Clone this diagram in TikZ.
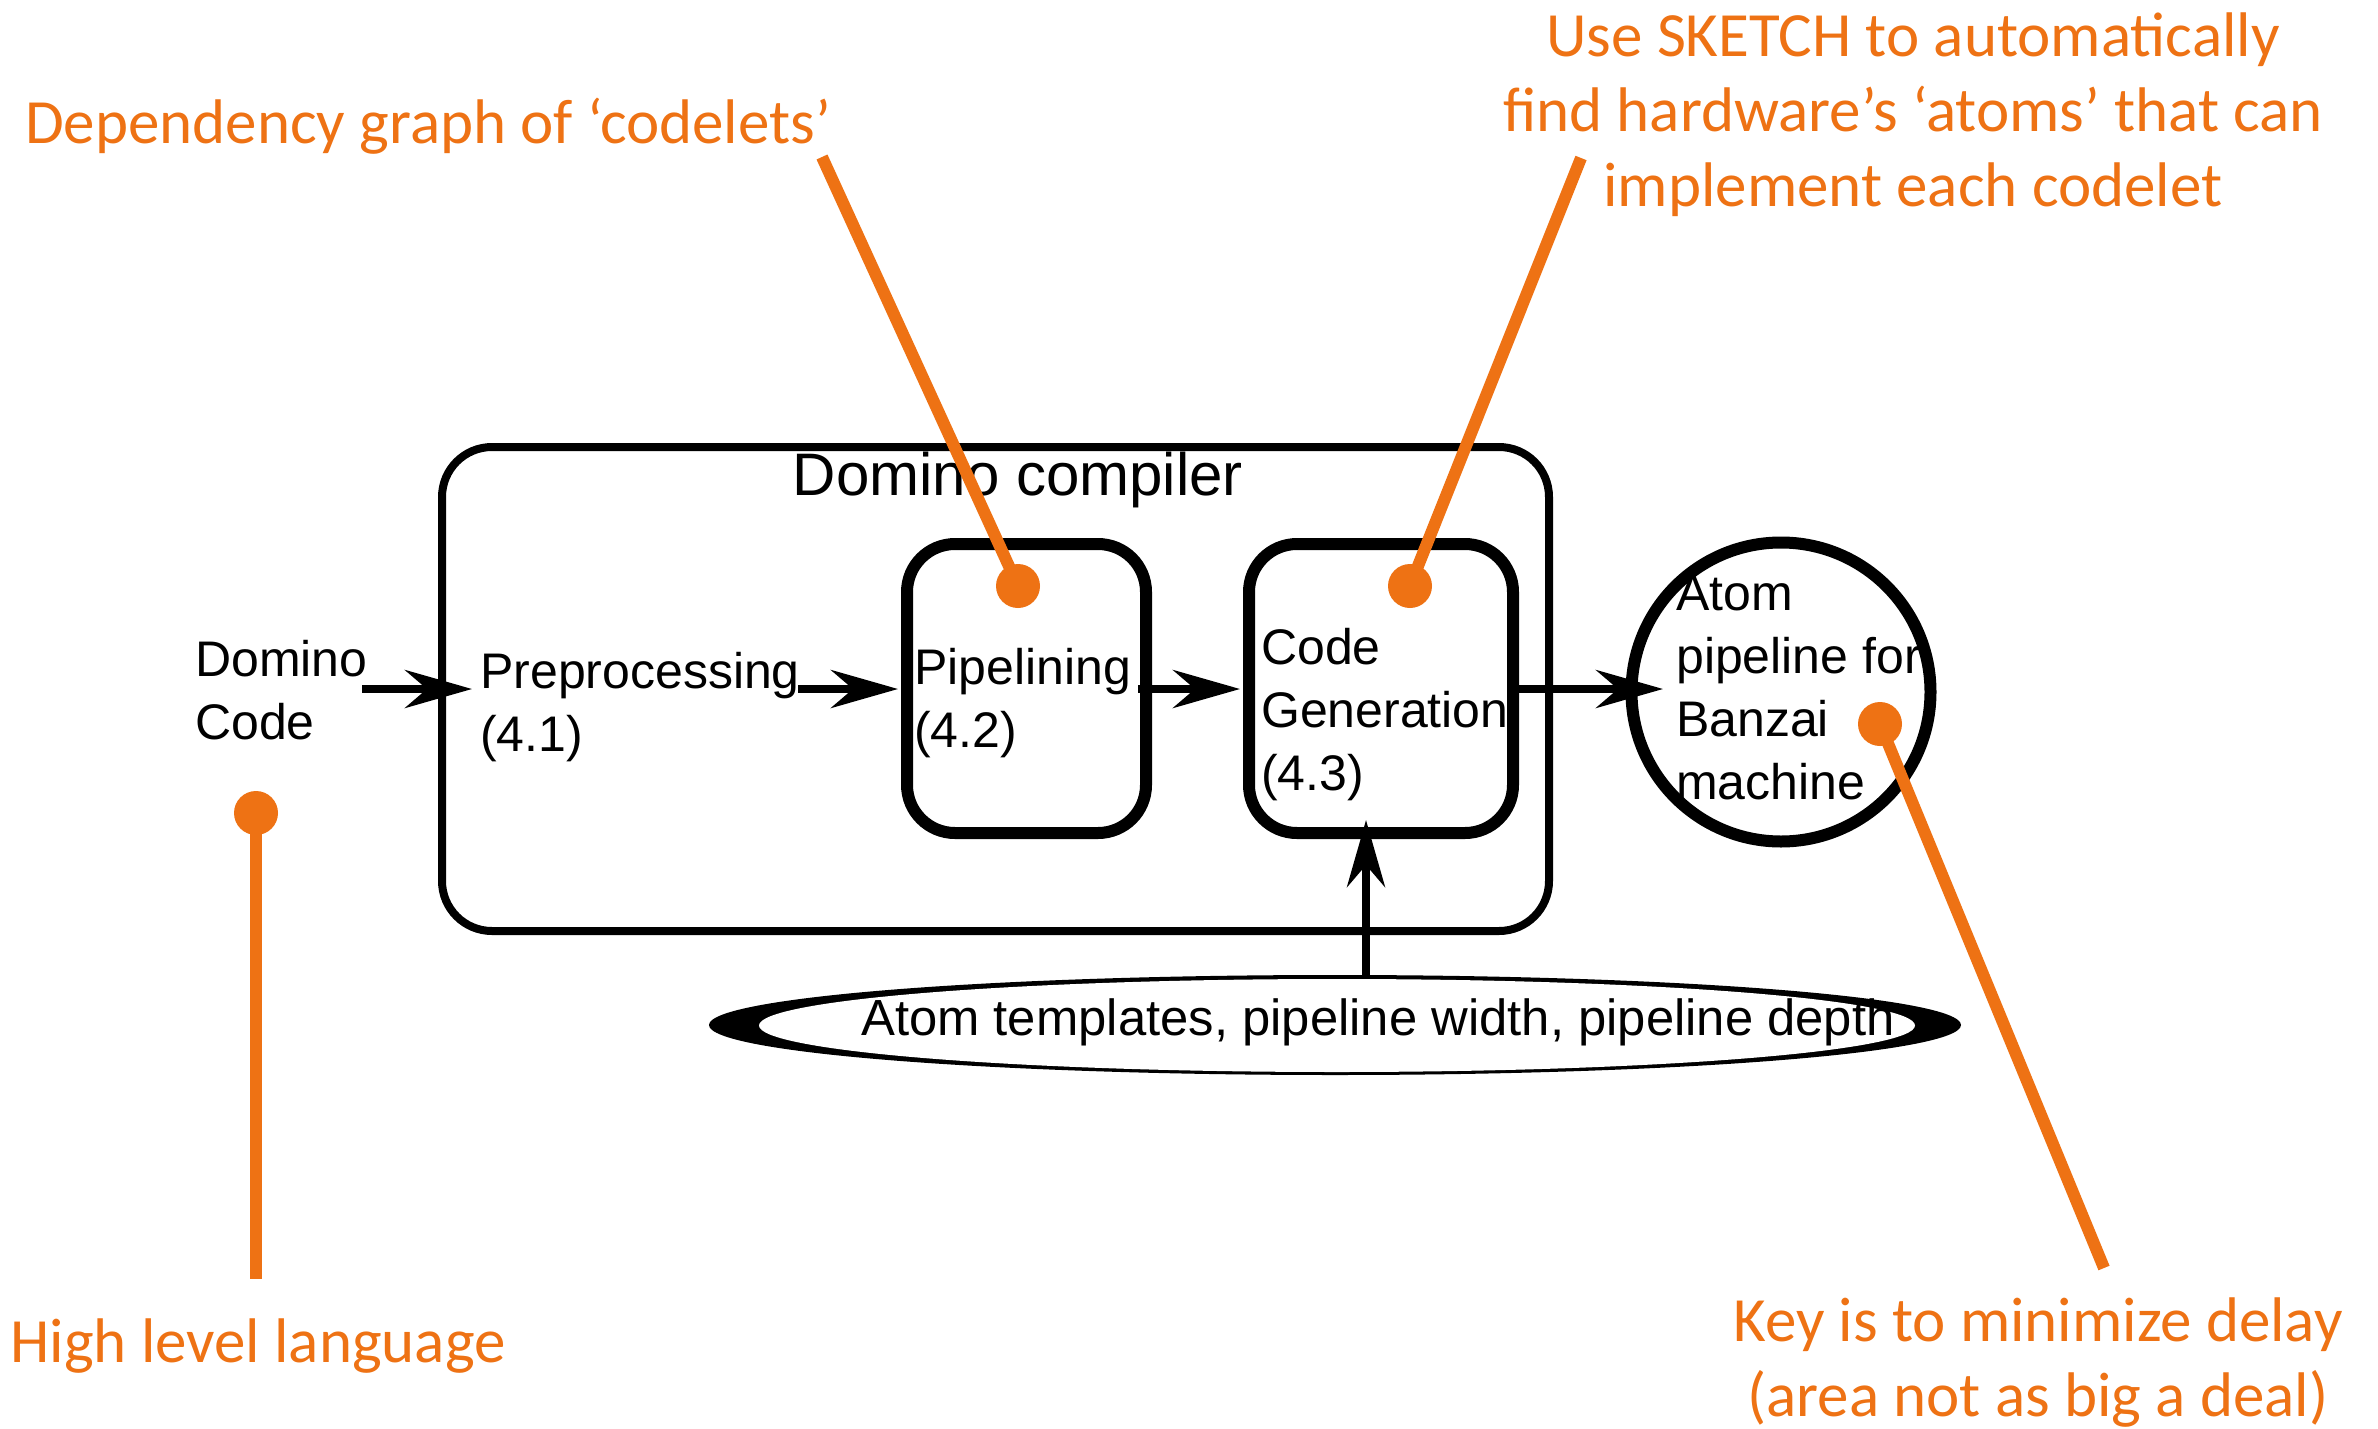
\documentclass[tikz,border=0pt]{standalone}
\usepackage{fontspec}
\setmainfont{Liberation Sans}
\newfontfamily\gillfont{Carlito}
\usetikzlibrary{arrows.meta,shapes.geometric}
\definecolor{orng}{RGB}{238,114,20}
\begin{document}
\begin{tikzpicture}[x=1pt,y=-1pt,
  arr/.style={line width=8pt,-{Stealth[length=67pt,width=38pt,inset=22pt]}},
  stagebox/.style={draw,line width=12pt,rounded corners=48pt,inner sep=0pt},
  blk/.style={font=\fontsize{50}{63}\selectfont,inner sep=0pt,align=left,anchor=base west},
  olab/.style={font=\gillfont\fontsize{63}{75}\selectfont,text=orng,inner sep=0pt,align=center,anchor=base},
  oline/.style={draw=orng,line width=12pt},
  odot/.style={circle,fill=orng,minimum size=44pt,inner sep=0pt}]
\useasboundingbox[fill=white] (0,0) rectangle (2378,1429);

% boxes
\node[draw,line width=8pt,rounded corners=50pt,inner sep=0pt,minimum width=1107pt,minimum height=484pt] (comp) at (995.5,689) {};
\node[stagebox,minimum width=239pt,minimum height=289pt] (pipe) at (1026.5,688.5) {};
\node[stagebox,minimum width=264pt,minimum height=289pt] (cgen) at (1381,688.5) {};
\node[circle,draw,line width=12pt,minimum size=299pt,inner sep=0pt] (atom) at (1781,692) {};
\node[ellipse,fill=black,minimum width=1252pt,minimum height=100pt,inner sep=0pt] (ell) at (1335,1025) {};
\node[ellipse,fill=white,minimum width=1156pt,minimum height=93pt,inner sep=0pt] (ellin) at (1337,1025.5) {};

% texts (anchor = baseline of last line)
\node[font=\fontsize{60}{72}\selectfont,inner sep=0pt,anchor=base] (title) at (1018,495) {Domino compiler};
\node[blk] (dc) at (195,739) {Domino\\Code};
\node[blk] (prep) at (480,751) {Preprocessing\\(4.1)};
\node[blk] (pipet) at (914,747) {Pipelining\\(4.2)};
\node[blk] (cgent) at (1261,790) {Code\\Generation\\(4.3)};
\node[blk] (atomt) at (1676,799) {Atom\\pipeline for\\Banzai\\machine};
\node[blk,font=\fontsize{50.8}{63}\selectfont] (ellt) at (861,1035) {Atom templates, pipeline width, pipeline depth};

% black arrows
\coordinate (a0) at (362,689);
\coordinate (a1) at (472,689);
\coordinate (b0) at (798,689);
\coordinate (b1) at (898,689);
\coordinate (c0) at (1138,689);
\coordinate (c1) at (1240,689);
\coordinate (d0) at (1513,689);
\coordinate (d1) at (1663,689);
\coordinate (e0) at (1366,976);
\coordinate (e1) at (1366,820);
\draw[arr] (a0) -- (a1);
\draw[arr] (b0) -- (b1);
\draw[arr] (c0) -- (c1);
\draw[arr] (d0) -- (d1);
\draw[arr] (e0) -- (e1);

% orange annotations
\node[olab] (ldep) at (428,143) {Dependency graph of ‘codelets’};
\node[olab] (lsk) at (1913,206) {Use SKETCH to automatically\\find hardware’s ‘atoms’ that can\\implement each codelet};
\node[olab] (lhigh) at (258,1362) {High level language};
\node[olab] (lkey) at (2038,1416) {Key is to minimize delay\\(area not as big a deal)};

\node[odot] (o1) at (256,813) {};
\node[odot] (o2) at (1018,586) {};
\node[odot] (o3) at (1410,586) {};
\node[odot] (o4) at (1880,724) {};
\coordinate (q1) at (256,1279);
\coordinate (q2) at (822,157);
\coordinate (q3) at (1581,158);
\coordinate (q4) at (2104,1268);
\draw[oline] (o1.center) -- (q1);
\draw[oline] (o2.center) -- (q2);
\draw[oline] (o3.center) -- (q3);
\draw[oline] (o4.center) -- (q4);
\end{tikzpicture}
\end{document}
